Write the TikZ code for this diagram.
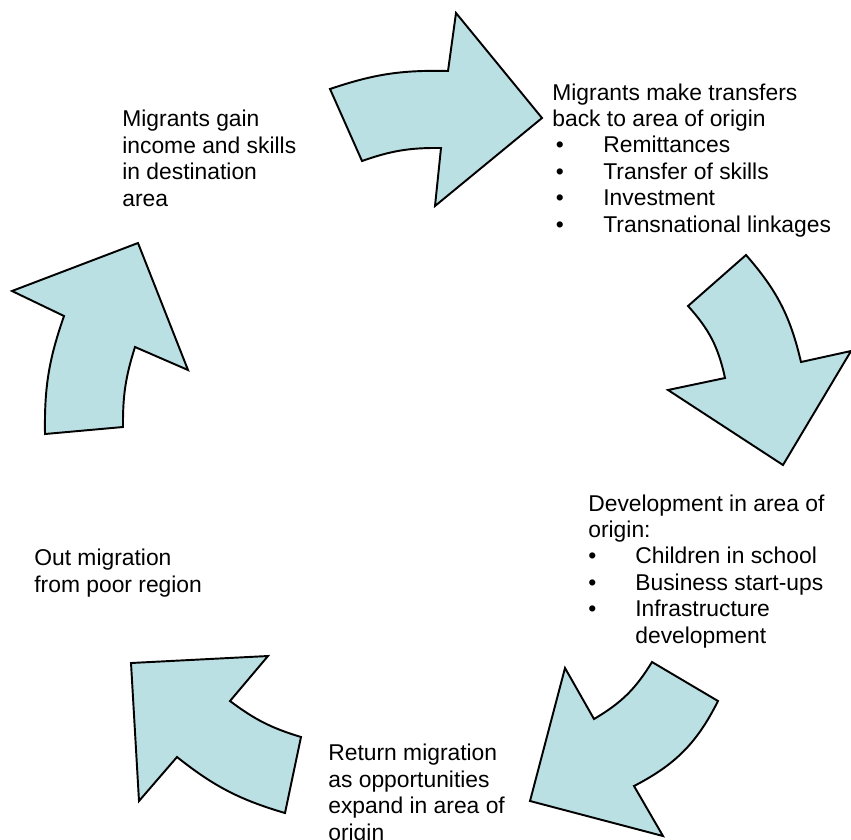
\documentclass[tikz,border=0pt]{standalone}
\usepackage{fontspec}
\setmainfont{Liberation Sans}
\definecolor{arrowfill}{RGB}{187,224,227}
\tikzset{
  cyclearrow/.style={draw=black, fill=arrowfill, line width=1.1pt, line join=miter},
  steptext/.style={anchor=base west, inner sep=0pt, align=left, font=\fontsize{13}{15}\selectfont}
}
\newcommand{\bul}[2]{\hspace*{#1}\makebox[#2][l]{\textbullet}}
\begin{document}
\begin{tikzpicture}[x=0.02cm,y=0.02cm]
    \useasboundingbox (0,0) rectangle (851,-839);
    % arrows round the cycle
    \draw[cyclearrow] (330,-89) to[bend left=10] (448,-71) -- (456,-13) -- (542,-118) -- (435,-206) -- (441,-148) to[bend right=10] (362,-161) -- cycle;
    \draw[cyclearrow] (746,-255) to[bend left=14] (801,-362) -- (851,-351) -- (783,-465) -- (668,-390) -- (725,-378) to[bend right=15] (688,-306) -- cycle;
    \draw[cyclearrow] (718,-701) to[bend left=18] (634,-786) -- (663,-836) -- (530,-801) -- (565,-668) -- (594,-719) to[bend right=14] (652,-662) -- cycle;
    \draw[cyclearrow] (285,-813) to[bend left=11] (177,-757) -- (139,-801) -- (131,-663) -- (268,-656) -- (230,-701) to[bend right=10] (301,-737) -- cycle;
    \draw[cyclearrow] (123,-427) to[bend left=9] (135,-347) -- (188,-370) -- (138,-243) -- (12,-291) -- (64,-316) to[bend right=10] (45,-434) -- cycle;
    % texts (placed by the baseline of their last line)
    \node[steptext] (gains) at (122,-206) {Migrants gain\\income and skills\\in destination\\area};
    \node[steptext] (transfers) at (552,-232) {Migrants make transfers\\back to area of origin\\\bul{0.07cm}{0.95cm}Remittances\\\bul{0.07cm}{0.95cm}Transfer of skills\\\bul{0.07cm}{0.95cm}Investment\\\bul{0.07cm}{0.95cm}Transnational linkages};
    \node[steptext] (development) at (588,-643) {Development in area of\\origin:\\\bul{0cm}{0.94cm}Children in school\\\bul{0cm}{0.94cm}Business start-ups\\\bul{0cm}{0.94cm}Infrastructure\\\hspace*{0.94cm}development};
    \node[steptext] (returns) at (328,-840) {Return migration\\as opportunities\\expand in area of\\origin};
    \node[steptext] (outmigration) at (34,-592) {Out migration\\from poor region};
\end{tikzpicture}
\end{document}
